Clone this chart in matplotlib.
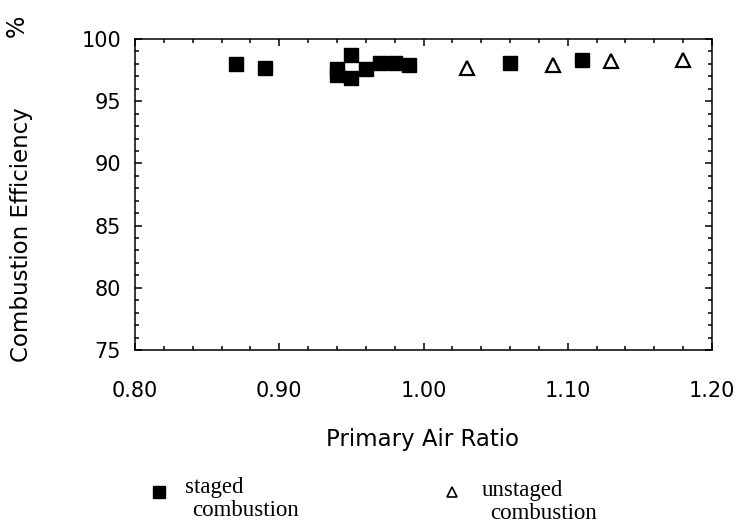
import matplotlib
matplotlib.use("Agg")
import matplotlib.pyplot as plt
from matplotlib.ticker import MultipleLocator, FormatStrFormatter

# primary air ratio vs combustion efficiency (%)
staged_x = [0.87, 0.89, 0.94, 0.94, 0.95, 0.95, 0.96, 0.97, 0.98, 0.99, 1.06, 1.11]
staged_y = [98.0, 97.7, 97.6, 97.1, 98.7, 96.9, 97.6, 98.1, 98.1, 97.9, 98.1, 98.3]
unstaged_x = [1.03, 1.09, 1.13, 1.18]
unstaged_y = [97.7, 97.9, 98.2, 98.3]

fig = plt.figure(figsize=(7.43, 5.25), dpi=100)
ax = fig.add_axes([0.1817, 0.3333, 0.7766, 0.5924])

ax.plot(staged_x, staged_y, linestyle="none", marker="s", markersize=10,
        color="black", clip_on=False)
ax.plot(unstaged_x, unstaged_y, linestyle="none", marker="^", markersize=10,
        markerfacecolor="white", markeredgecolor="black", markeredgewidth=1.6,
        clip_on=False)

ax.set_xlim(0.80, 1.20)
ax.set_ylim(75, 100)
ax.xaxis.set_major_locator(MultipleLocator(0.1))
ax.xaxis.set_minor_locator(MultipleLocator(0.02))
ax.yaxis.set_major_locator(MultipleLocator(5))
ax.yaxis.set_minor_locator(MultipleLocator(1))
ax.xaxis.set_major_formatter(FormatStrFormatter("%.2f"))

ax.tick_params(which="both", direction="in", top=True, right=True, width=1.1)
ax.tick_params(which="major", length=5)
ax.tick_params(which="minor", length=3)
ax.tick_params(axis="x", which="major", pad=22, labelsize=15)
ax.tick_params(axis="y", which="major", pad=10, labelsize=15)
for sp in ax.spines.values():
    sp.set_linewidth(1.1)

fig.text(0.568, 0.162, "Primary Air Ratio", ha="center", va="center", fontsize=16.5)
fig.text(0.029, 0.553, "Combustion Efficiency", ha="center", va="center",
         rotation=90, fontsize=16.5)
fig.text(0.022, 0.95, "%", ha="center", va="center", rotation=90, fontsize=17)

# legend below the plot
fig.lines.append(plt.Line2D([0.214], [0.062], transform=fig.transFigure,
                            marker="s", markersize=8, color="black", linestyle="none"))
fig.text(0.249, 0.072, "staged", family="Liberation Serif", fontsize=16.5,
         ha="left", va="center")
fig.text(0.259, 0.027, "combustion", family="Liberation Serif", fontsize=16.5,
         ha="left", va="center")
fig.lines.append(plt.Line2D([0.608], [0.062], transform=fig.transFigure,
                            marker="^", markersize=7, markerfacecolor="white",
                            markeredgecolor="black", markeredgewidth=1.2,
                            linestyle="none"))
fig.text(0.649, 0.066, "unstaged", family="Liberation Serif", fontsize=16.5,
         ha="left", va="center")
fig.text(0.659, 0.021, "combustion", family="Liberation Serif", fontsize=16.5,
         ha="left", va="center")

fig.savefig("out.png", dpi=100)
